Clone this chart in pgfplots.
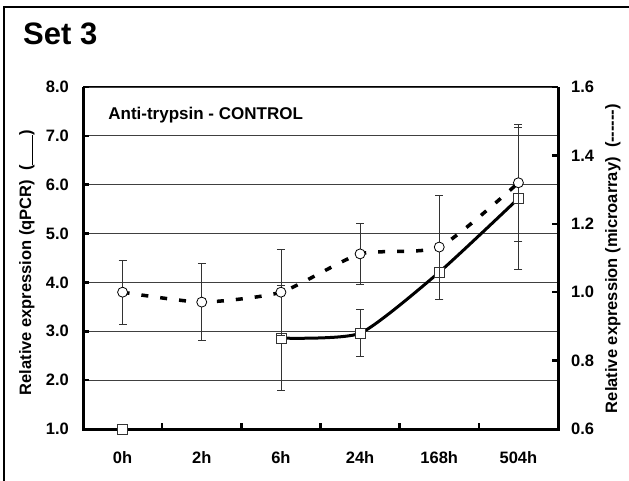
\documentclass[border=0pt]{standalone}
\usepackage{pgfplots}
\pgfplotsset{compat=1.18}
\usepackage{pgfplotstable}
\usepackage{fontspec}
\setmainfont{Liberation Sans}

% qPCR, left axis (0h is a lone marker at 1.0)
\pgfplotstableread{
x y e
2 2.86 1.08
3 2.96 0.48
4 4.21 0.55
5 5.72 1.46
}\qpcr

% microarray, right axis
\pgfplotstableread{
x y e
0 1.000 0.094
1 0.971 0.112
2 1.000 0.126
3 1.112 0.088
4 1.132 0.152
5 1.320 0.170
}\micro

\newcommand{\lblfont}{\fontsize{16.5}{19}\selectfont\bfseries}

\begin{document}
\begin{tikzpicture}[x=1pt,y=1pt]
\useasboundingbox (0,0) rectangle (629,480);
\draw[line width=1.2pt] (4,-2) -- (4,473) -- (632,473);
\node[anchor=base west, inner sep=0pt, font=\fontsize{31}{36}\selectfont\bfseries] at (23,435) {Set 3};

\begin{axis}[
    at={(83pt,51pt)}, anchor=south west,
    width=475pt, height=342pt, scale only axis,
    clip=false,
    xmin=-0.5, xmax=5.5, ymin=1, ymax=8,
    axis line style={draw=none},
    xtick={0.5,1.5,2.5,3.5,4.5}, xticklabels={},
    extra x ticks={0,1,2,3,4,5},
    extra x tick labels={0h,2h,6h,24h,168h,504h},
    extra x tick style={tick style={draw=none}},
    ytick={1,2,3,4,5,6,7,8},
    xtick pos=bottom, ytick pos=left,
    tick align=inside, major tick length=6pt,
    tick style={line width=2.5pt, black},
    ymajorgrids, grid style={line width=0.8pt, black!75},
    /pgf/number format/assume math mode=true,
    tick label style={font=\lblfont, inner sep=0pt},
    yticklabel style={anchor=east, xshift=-14pt,
        /pgf/number format/.cd, fixed, fixed zerofill, precision=1},
    xticklabel style={anchor=north, yshift=-22pt},
]
\draw[line width=1pt] (rel axis cs:0,1) -- (rel axis cs:1,1);
\draw[line width=3pt, line join=miter] (rel axis cs:0,1) -- (rel axis cs:0,0)
    -- (rel axis cs:1,0) -- (rel axis cs:1,1);

\addplot[black, line width=3pt, smooth, tension=0.35,
    mark=square*, mark size=5pt,
    mark options={fill=white, draw=black!80, line width=0.8pt},
    error bars/.cd, y dir=both, y explicit,
    error bar style={line width=0.8pt, black!80},
    error mark options={rotate=90, mark size=4pt, line width=0.8pt, black!80}]
    table[x=x, y=y, y error=e] {\qpcr};
\addplot[only marks, mark=square*, mark size=5pt,
    mark options={fill=white, draw=black!80, line width=0.8pt}]
    coordinates {(0,1.0)};
\node[anchor=base west, inner sep=0pt, font=\fontsize{17}{20}\selectfont\bfseries]
    at (rel axis cs:0.053,0.906) {Anti-trypsin - CONTROL};
\end{axis}

\begin{axis}[
    at={(83pt,51pt)}, anchor=south west,
    width=475pt, height=342pt, scale only axis,
    clip=false,
    xmin=-0.5, xmax=5.5, ymin=0.6, ymax=1.6,
    hide x axis,
    axis line style={draw=none},
    ytick={0.6,0.8,1.0,1.2,1.4,1.6},
    ytick pos=right, yticklabel pos=right,
    tick align=inside, major tick length=6pt,
    tick style={line width=2.5pt, black},
    /pgf/number format/assume math mode=true,
    tick label style={font=\lblfont, inner sep=0pt},
    yticklabel style={anchor=west, xshift=13pt,
        /pgf/number format/.cd, fixed, fixed zerofill, precision=1},
]
\addplot[black, line width=3.5pt, smooth, tension=0.35, dash pattern=on 7pt off 12pt,
    mark=*, mark size=5pt,
    mark options={solid, fill=white, draw=black, line width=0.8pt},
    error bars/.cd, y dir=both, y explicit,
    error bar style={solid, line width=0.8pt, black!80},
    error mark options={solid, rotate=90, mark size=4pt, line width=0.8pt, black!80}]
    table[x=x, y=y, y error=e] {\micro};
\end{axis}

\node[rotate=90, anchor=base, inner sep=0pt, font=\lblfont] at (31,217.5)
    {Relative expression (qPCR)\ \ (\rule[-1.5pt]{30pt}{0.8pt})};
\node[rotate=90, anchor=base, inner sep=0pt, font=\lblfont] at (617,221.5)
    {Relative expression (microarray)\ \ ({-}{-}{-}{-}{-}{-})};
\end{tikzpicture}
\end{document}
